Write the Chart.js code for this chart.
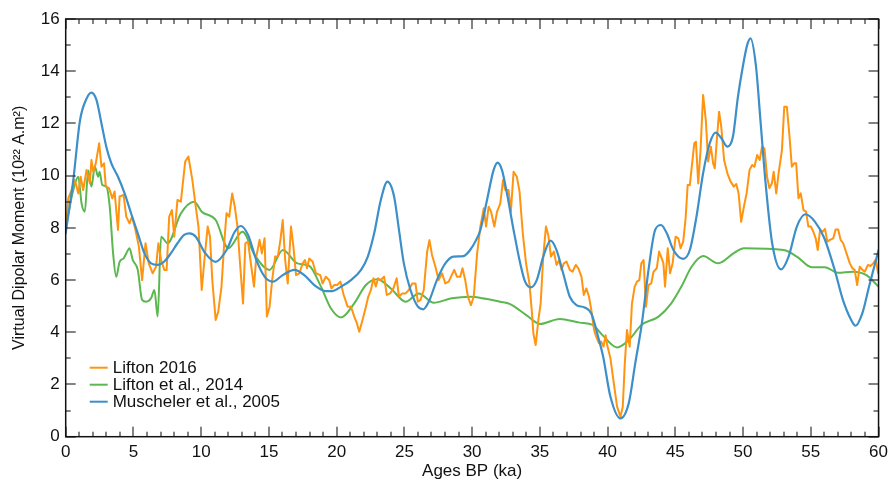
<!DOCTYPE html>
<html>
<head>
<meta charset="utf-8">
<script src="https://cdn.jsdelivr.net/npm/chart.js@4.4.1/dist/chart.umd.min.js"></script>
<style>
  html, body { margin: 0; padding: 0; background: #fff; }
  #wrap { width: 893px; height: 482px; }
</style>
</head>
<body>
<div id="wrap"><canvas id="vdmChart" width="893" height="482"></canvas></div>
<script>
// Lifton 2016 (noisy record)
const lifton16Ages = [0,0.19,0.44,0.68,0.93,1.1,1.29,1.54,1.78,1.9,2.03,2.22,2.47,2.64,2.83,2.96,3.2,3.44,3.61,3.86,3.98,4.27,4.47,4.71,4.9,5.15,5.4,5.64,5.89,6.13,6.42,6.67,6.84,7.04,7.28,7.45,7.64,7.84,8.01,8.25,8.5,8.82,9.06,9.35,9.6,9.8,10.04,10.24,10.48,10.65,10.82,11.07,11.26,11.5,11.7,11.87,12.07,12.29,12.48,12.68,12.85,13.09,13.26,13.46,13.7,13.9,14.07,14.31,14.48,14.68,14.85,15.05,15.24,15.46,15.66,15.85,16.02,16.2,16.39,16.63,16.81,17.0,17.25,17.49,17.66,17.81,17.98,18.23,18.47,18.79,18.96,19.2,19.45,19.62,19.81,20.03,20.28,20.52,20.81,21.06,21.3,21.5,21.67,21.91,22.16,22.33,22.53,22.72,22.89,23.06,23.26,23.5,23.7,23.95,24.19,24.43,24.6,24.84,25.09,25.33,25.58,25.82,25.99,26.19,26.43,26.68,26.85,27.04,27.29,27.53,27.78,28.02,28.27,28.44,28.68,28.88,29.12,29.29,29.49,29.69,29.91,30.12,30.37,30.61,30.86,31.03,31.22,31.4,31.64,31.84,32.08,32.28,32.45,32.69,32.86,33.06,33.3,33.5,33.74,33.98,34.23,34.4,34.52,34.69,34.89,35.06,35.25,35.45,35.62,35.82,36.04,36.23,36.43,36.6,36.77,36.97,37.21,37.41,37.65,37.84,38.07,38.24,38.43,38.63,38.8,39.0,39.16,39.36,39.53,39.7,39.85,39.97,40.21,40.46,40.7,40.95,41.12,41.27,41.43,41.63,41.8,42.0,42.17,42.34,42.49,42.66,42.83,43.02,43.22,43.39,43.63,43.8,43.95,44.12,44.24,44.44,44.61,44.8,45.02,45.22,45.39,45.58,45.76,45.91,46.07,46.24,46.4,46.52,46.69,46.86,47.05,47.25,47.42,47.62,47.79,47.91,48.08,48.23,48.39,48.6,48.84,49.08,49.32,49.5,49.67,49.86,50.06,50.26,50.48,50.67,50.84,51.04,51.23,51.4,51.58,51.77,51.94,52.13,52.26,52.45,52.62,52.87,53.04,53.23,53.43,53.6,53.77,53.92,54.09,54.26,54.46,54.65,54.82,55.0,55.19,55.36,55.51,55.68,55.87,56.05,56.22,56.41,56.66,56.83,57.02,57.2,57.39,57.63,57.88,58.07,58.24,58.42,58.61,58.81,58.98,59.22,59.4,59.6,59.79,59.97];
const lifton16 = [7.9,9.13,9.45,9.83,9.32,9.96,9.45,10.22,9.71,10.6,10.15,10.47,11.24,10.34,10.47,9.58,9.52,9.13,9.39,7.92,9.2,9.26,8.43,8.17,8.43,7.92,7.28,6.0,7.41,6.64,6.26,6.51,7.41,6.77,6.39,6.39,8.43,8.68,7.66,9.07,9.0,10.54,10.73,9.83,8.8,8.05,5.62,6.77,8.05,7.66,6.0,4.47,4.79,5.75,7.41,8.56,8.43,9.32,8.81,8.05,6.77,5.1,7.41,7.47,6.51,5.75,6.9,7.54,7.02,7.6,4.6,4.98,6.0,6.9,6.9,7.54,8.3,6.77,5.87,8.05,7.28,6.19,6.26,6.64,6.77,6.45,6.83,6.7,6.26,6.19,5.87,6.13,6.0,5.68,5.81,5.81,5.94,5.43,4.98,4.98,4.6,4.34,4.02,4.47,4.98,5.36,5.62,6.07,5.75,6.07,6.0,6.13,5.43,5.49,5.68,6.07,5.36,5.49,5.49,5.62,5.87,5.87,5.17,5.24,5.62,7.09,7.53,6.96,6.51,6.0,6.26,5.87,5.94,6.13,6.39,6.13,6.13,6.45,6.0,5.36,5.04,5.36,7.02,8.05,8.75,8.05,8.81,8.62,8.05,8.62,8.94,9.83,9.45,9.45,8.62,10.15,9.96,9.39,7.79,6.64,5.87,4.85,3.96,3.51,4.47,5.11,6.9,8.05,7.73,6.9,7.09,6.58,6.77,6.39,6.64,6.71,6.39,6.32,6.58,6.45,6.13,5.43,5.68,5.36,4.85,4.09,3.83,3.58,3.64,3.45,3.89,3.51,3.0,2.04,1.15,0.77,1.15,2.81,4.09,3.45,5.11,5.75,5.94,6.0,6.64,6.77,4.98,5.81,5.87,6.32,6.45,7.09,6.9,6.64,5.75,7.22,6.26,6.64,7.66,7.6,7.22,7.47,8.37,9.64,9.64,10.47,11.24,11.3,9.7,10.98,13.09,12.13,10.54,11.11,10.47,10.28,11.49,12.45,11.88,10.6,10.09,9.77,9.58,9.68,9.32,8.23,8.81,9.32,10.22,10.41,10.34,10.79,10.6,11.11,11.04,9.96,9.52,9.71,10.15,9.32,10.09,10.98,12.64,12.64,11.49,10.34,10.47,10.47,9.13,9.32,8.68,8.62,8.05,8.05,7.85,7.6,7.15,7.92,7.85,7.96,7.47,7.54,7.6,7.94,7.94,7.54,7.41,7.03,6.64,6.45,6.39,5.81,6.51,6.39,6.32,6.58,6.54,6.64,6.77,6.26];

// Lifton et al., 2014
const lifton14Ages = [0,0.56,0.93,1.17,1.41,1.66,1.9,2.15,2.4,2.5,2.7,3.0,3.25,3.5,3.73,3.98,4.27,4.47,4.71,4.95,5.32,5.64,5.94,6.3,6.55,6.79,7.04,7.52,8.5,9.48,10.04,11.07,12.0,13.05,13.95,15.05,16.03,17.1,17.98,18.84,19.57,20.33,21.3,22.16,23.0,24.0,25.1,26.06,27.16,28.5,29.85,31.0,32.07,32.8,34.0,35.0,36.47,37.94,38.9,39.6,40.7,41.56,42.5,43.76,44.7,45.45,46.2,47.05,48.16,49.37,50.06,53.0,53.97,55.07,56.04,57.0,58.1,59.1,60];
const lifton14 = [8.0,9.45,9.96,8.94,8.62,10.2,9.58,10.34,9.96,10.15,9.64,9.58,8.81,7.02,6.13,6.7,6.83,7.02,7.22,6.77,6.39,5.24,5.17,5.3,5.62,4.6,7.66,7.41,8.55,9.0,8.62,8.3,7.22,7.85,6.96,6.39,7.15,6.64,6.54,5.75,4.92,4.57,5.11,5.81,6.03,5.68,5.17,5.49,5.13,5.3,5.36,5.28,5.17,5.08,4.66,4.32,4.51,4.37,4.28,3.9,3.42,3.7,4.28,4.6,5.11,5.75,6.51,6.92,6.64,7.05,7.22,7.15,6.9,6.49,6.49,6.28,6.32,6.19,5.75];

// Muscheler et al., 2005
const muschelerAges = [0,0.56,1.05,1.54,1.9,2.27,2.64,3.0,3.37,3.86,4.35,4.83,5.32,5.81,6.3,6.8,7.28,7.77,8.25,8.74,9.16,9.6,10.3,11.07,11.87,12.48,12.92,13.46,14.07,14.68,15.29,16.02,16.88,17.61,18.35,19.2,19.7,20.33,21.06,21.8,22.3,22.77,23.26,23.75,24.24,24.6,24.96,25.45,26.0,26.4,26.8,27.4,28.02,28.63,29.36,29.85,30.29,30.61,31.1,31.59,31.88,32.2,32.57,33.06,33.55,33.91,34.33,34.77,35.25,35.8,36.23,36.72,37.21,37.7,38.3,38.8,39.3,39.67,40.21,40.95,41.56,42.04,42.53,43.02,43.51,43.95,44.37,44.86,45.58,46.07,46.56,47.05,47.54,47.98,48.4,48.84,49.25,49.62,49.98,50.3,50.55,50.95,51.3,51.7,52.15,52.8,53.36,53.97,54.6,55.3,56.0,56.76,57.37,57.98,58.3,58.8,59.3,60];
const muscheler = [7.8,9.83,12.1,12.95,13.18,12.9,12.0,11.1,10.47,9.96,9.32,8.55,7.79,7.03,6.64,6.58,6.71,7.03,7.41,7.73,7.79,7.66,7.03,6.7,7.15,7.85,8.07,7.73,6.77,6.13,5.94,6.19,6.39,6.19,5.81,5.58,5.58,5.75,6.0,6.39,6.9,7.79,9.07,9.77,9.2,7.92,6.64,5.62,4.98,4.88,5.17,6.0,6.64,6.9,6.92,7.15,7.53,7.92,9.07,10.22,10.5,10.22,9.32,7.92,6.64,5.94,5.72,6.0,6.9,7.51,7.15,6.26,5.36,5.04,4.95,4.72,3.83,3.07,1.53,0.7,1.28,2.81,4.34,6.39,7.92,8.11,7.79,7.15,6.81,7.15,8.43,10.09,11.24,11.65,11.43,11.11,11.49,13.02,14.17,15.0,15.26,14.2,12.0,9.5,7.4,6.41,6.9,8.05,8.52,8.24,7.6,6.39,5.24,4.47,4.25,4.72,5.75,7.15];

const seriesLabels = ['Lifton 2016', 'Lifton et al., 2014', 'Muscheler et al., 2005'];
const seriesColors = ['#ff9410', '#5bb74f', '#3c8fc8'];

const xMin = 0, xMax = 60, xMajor = 5, xMinor = 1;
const yMin = 0, yMax = 16, yMajor = 2, yMinor = 1;

const FONT = "'Liberation Sans', Arial, Helvetica, sans-serif";

function toPoints(ages, vals) {
    return ages.map((a, i) => ({ x: a, y: vals[i] }));
}

// inward ticks on all four sides + closed frame
const frameTicks = {
    id: 'frameTicks',
    afterDraw(chart) {
        const ctx = chart.ctx;
        const a = chart.chartArea;
        const xs = chart.scales.x, ys = chart.scales.y;
        ctx.save();
        ctx.fillStyle = '#333';
        for (let v = xMin; v <= xMax; v += xMinor) {
            const px = Math.round(xs.getPixelForValue(v));
            const len = v % xMajor === 0 ? 10 : 5;
            ctx.fillRect(px - 0.6, a.bottom - len, 1.2, len);
            ctx.fillRect(px - 0.6, a.top, 1.2, len);
        }
        for (let v = yMin; v <= yMax; v += yMinor) {
            const py = Math.round(ys.getPixelForValue(v));
            const len = v % yMajor === 0 ? 10 : 5;
            ctx.fillRect(a.left, py - 0.6, len, 1.2);
            ctx.fillRect(a.right - len, py - 0.6, len, 1.2);
        }
        ctx.strokeStyle = '#111';
        ctx.lineWidth = 1.5;
        ctx.strokeRect(a.left, a.top, a.right - a.left, a.bottom - a.top);
        ctx.restore();
    }
};

// legend inside the plot, lower left
const insideLegend = {
    id: 'insideLegend',
    afterDraw(chart) {
        const ctx = chart.ctx;
        const a = chart.chartArea;
        ctx.save();
        ctx.font = '17px ' + FONT;
        ctx.textBaseline = 'middle';
        ctx.fillStyle = '#111';
        seriesLabels.forEach((lab, i) => {
            const yy = a.bottom - 69 + i * 17;
            ctx.strokeStyle = seriesColors[i];
            ctx.lineWidth = 2;
            ctx.beginPath();
            ctx.moveTo(a.left + 24, yy);
            ctx.lineTo(a.left + 42, yy);
            ctx.stroke();
            ctx.fillText(lab, a.left + 47, yy + 1);
        });
        ctx.restore();
    }
};

new Chart(document.getElementById('vdmChart').getContext('2d'), {
    type: 'line',
    data: {
        datasets: [
            {
                label: seriesLabels[0],
                data: toPoints(lifton16Ages, lifton16),
                borderColor: seriesColors[0],
                borderWidth: 2,
                tension: 0,
                order: 1
            },
            {
                label: seriesLabels[1],
                data: toPoints(lifton14Ages, lifton14),
                borderColor: seriesColors[1],
                borderWidth: 2,
                cubicInterpolationMode: 'monotone',
                order: 2
            },
            {
                label: seriesLabels[2],
                data: toPoints(muschelerAges, muscheler),
                borderColor: seriesColors[2],
                borderWidth: 2.2,
                cubicInterpolationMode: 'monotone',
                order: 0
            }
        ]
    },
    options: {
        responsive: false,
        animation: false,
        events: [],
        elements: { point: { radius: 0 }, line: { borderJoinStyle: 'round', borderCapStyle: 'round' } },
        layout: { padding: { top: 19, right: 9, left: 0, bottom: 0 } },
        plugins: { legend: { display: false }, tooltip: { enabled: false } },
        scales: {
            x: {
                type: 'linear',
                min: xMin,
                max: xMax,
                grid: { display: false, drawTicks: false },
                border: { display: false },
                ticks: { stepSize: xMajor, autoSkip: false, padding: 5, color: '#111', font: { family: FONT, size: 17 } },
                title: { display: true, text: 'Ages BP (ka)', color: '#111', font: { family: FONT, size: 17 }, padding: { top: 0, bottom: 0 } },
                afterFit(scale) { scale.height = 45.3; }
            },
            y: {
                min: yMin,
                max: yMax,
                grid: { display: false, drawTicks: false },
                border: { display: false },
                ticks: { stepSize: yMajor, padding: 6, color: '#111', font: { family: FONT, size: 17 } },
                title: { display: true, text: 'Virtual Dipolar Moment (10²² A.m²)', color: '#111', font: { family: FONT, size: 16 }, padding: { top: 10, bottom: 0 } },
                afterFit(scale) { scale.width = 65.7; }
            }
        }
    },
    plugins: [frameTicks, insideLegend]
});
</script>
</body>
</html>
